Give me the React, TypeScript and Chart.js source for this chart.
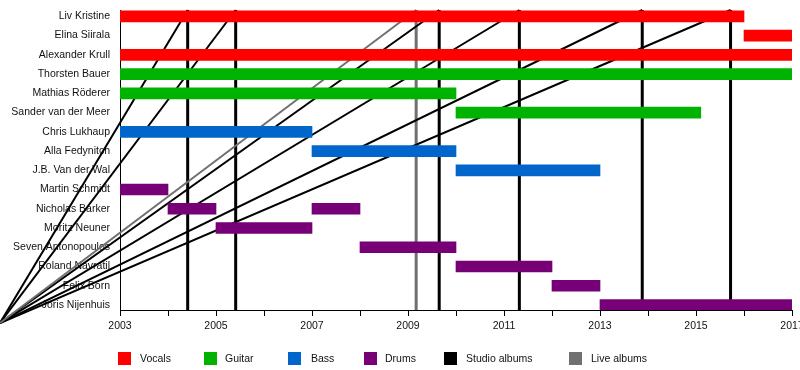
import React, { useEffect, useRef } from "react";
import { Chart, registerables } from "chart.js";

Chart.register(...registerables);

const members = [
  "Liv Kristine",
  "Elina Siirala",
  "Alexander Krull",
  "Thorsten Bauer",
  "Mathias Röderer",
  "Sander van der Meer",
  "Chris Lukhaup",
  "Alla Fedynitch",
  "J.B. Van der Wal",
  "Martin Schmidt",
  "Nicholas Barker",
  "Moritz Neuner",
  "Seven Antonopoulos",
  "Roland Navratil",
  "Felix Born",
  "Joris Nijenhuis",
];

type Span = [string, number, number];

const vocals: Span[] = [
  ["Liv Kristine", 2003, 2016],
  ["Elina Siirala", 2016, 2017],
  ["Alexander Krull", 2003, 2017],
];
const guitar: Span[] = [
  ["Thorsten Bauer", 2003, 2017],
  ["Mathias Röderer", 2003, 2010],
  ["Sander van der Meer", 2010, 2015.1],
];
const bass: Span[] = [
  ["Chris Lukhaup", 2003, 2007],
  ["Alla Fedynitch", 2007, 2010],
  ["J.B. Van der Wal", 2010, 2013],
];
const drums: Span[] = [
  ["Martin Schmidt", 2003, 2004],
  ["Nicholas Barker", 2004, 2005],
  ["Nicholas Barker", 2007, 2008],
  ["Moritz Neuner", 2005, 2007],
  ["Seven Antonopoulos", 2008, 2010],
  ["Roland Navratil", 2010, 2012],
  ["Felix Born", 2012, 2013],
  ["Joris Nijenhuis", 2013, 2017],
];

const studioAlbums = [2004.41, 2005.41, 2009.65, 2011.32, 2013.88, 2015.72];
const liveAlbums = [2009.17];

const yearMin = 2003;
const yearMax = 2017;
const yearLabels = [2003, 2005, 2007, 2009, 2011, 2013, 2015, 2017];

const legendLabels = ["Vocals", "Guitar", "Bass", "Drums", "Studio albums", "Live albums"];

const COLORS = {
  vocals: "#ff0000",
  guitar: "#00b300",
  bass: "#0066cc",
  drums: "#770077",
  studio: "#000000",
  live: "#707070",
};
const legendColors = [COLORS.vocals, COLORS.guitar, COLORS.bass, COLORS.drums, COLORS.studio, COLORS.live];
const legendSquareLeft = [118, 204, 288, 364, 444, 569];
const legendTextLeft = [140, 225, 311, 385, 466, 591];

const FONT = "'Liberation Sans', Arial, Helvetica, sans-serif";

// diagonal artefact origin (left edge of picture, below axis)
const DIAG_X = 2000.5;
const DIAG_Y = -0.0433;

function spansToData(spans: Span[]) {
  return spans.map(([name, s, e]) => ({ x: [s, e], y: members.indexOf(name) }));
}

export default function App() {
  const canvasRef = useRef<HTMLCanvasElement | null>(null);

  useEffect(() => {
    const canvas = canvasRef.current;
    if (!canvas) return;

    const barDs = (label: string, spans: Span[], color: string) => ({
      type: "bar" as const,
      label,
      data: spansToData(spans) as any,
      backgroundColor: color,
      borderWidth: 0,
      barThickness: 11,
      grouped: false,
      xAxisID: "x",
      yAxisID: "y",
      order: 0,
    });

    const lineDs = (pts: { x: number; y: number }[], color: string, width: number) => ({
      type: "line" as const,
      data: pts as any,
      borderColor: color,
      borderWidth: width,
      pointRadius: 0,
      fill: false,
      tension: 0,
      clip: false as any,
      indexAxis: "x" as const,
      xAxisID: "x",
      yAxisID: "yLine",
      order: 1,
    });

    const lineDatasets: any[] = [];
    liveAlbums.forEach((yr) => {
      lineDatasets.push(lineDs([{ x: DIAG_X, y: DIAG_Y }, { x: yr, y: 1 }], COLORS.live, 2));
    });
    studioAlbums.forEach((yr) => {
      lineDatasets.push(lineDs([{ x: DIAG_X, y: DIAG_Y }, { x: yr, y: 1 }], COLORS.studio, 2));
    });
    liveAlbums.forEach((yr) => {
      lineDatasets.push(lineDs([{ x: yr, y: 0 }, { x: yr, y: 1 }], COLORS.live, 3));
    });
    studioAlbums.forEach((yr) => {
      lineDatasets.push(lineDs([{ x: yr, y: 0 }, { x: yr, y: 1 }], COLORS.studio, 3));
    });

    const chart = new Chart(canvas, {
      type: "bar",
      data: {
        datasets: [
          barDs("Vocals", vocals, COLORS.vocals),
          barDs("Guitar", guitar, COLORS.guitar),
          barDs("Bass", bass, COLORS.bass),
          barDs("Drums", drums, COLORS.drums),
          ...lineDatasets,
        ] as any,
      },
      options: {
        indexAxis: "y",
        responsive: false,
        animation: false,
        layout: { padding: { top: 10, right: 8, bottom: 0, left: 0 } },
        plugins: {
          legend: { display: false },
          tooltip: { enabled: false },
        },
        scales: {
          x: {
            type: "linear",
            position: "bottom",
            offset: false,
            min: yearMin,
            max: yearMax,
            afterBuildTicks: (scale: any) => {
              const t: any[] = [];
              for (let v = yearMin; v <= yearMax; v++) t.push({ value: v });
              scale.ticks = t;
            },
            afterFit: (scale: any) => {
              scale.height = 60;
              scale.paddingLeft = 0;
              scale.paddingRight = 0;
            },
            ticks: {
              autoSkip: false,
              maxRotation: 0,
              padding: 4,
              color: "#111",
              font: { family: FONT, size: 10.5 },
              callback: (v: any) => (yearLabels.includes(Number(v)) ? String(v) : ""),
            },
            grid: {
              offset: false,
              drawOnChartArea: false,
              drawTicks: true,
              tickLength: 6,
              tickWidth: 1,
              color: "#000",
            },
            border: { display: true, color: "#000", width: 1 },
          },
          y: {
            type: "linear",
            position: "left",
            offset: false,
            reverse: true,
            min: -0.33,
            max: 15.26,
            afterBuildTicks: (scale: any) => {
              scale.ticks = members.map((_, i) => ({ value: i }));
            },
            afterFit: (scale: any) => {
              scale.width = 120;
              scale.paddingTop = 0;
              scale.paddingBottom = 0;
            },
            ticks: {
              autoSkip: false,
              padding: 10,
              color: "#111",
              font: { family: FONT, size: 10.5 },
              callback: (v: any) => members[Number(v)] ?? "",
            },
            grid: { offset: false, drawOnChartArea: false, drawTicks: false },
            border: { display: true, color: "#000", width: 1 },
          },
          yLine: {
            type: "linear",
            axis: "y",
            offset: false,
            display: false,
            min: 0,
            max: 1,
            grid: { offset: false },
          },
        } as any,
      },
    });

    return () => chart.destroy();
  }, []);

  return (
    <div
      style={{
        position: "fixed",
        left: 0,
        top: 0,
        width: 800,
        height: 370,
        background: "#fff",
        fontFamily: FONT,
      }}
    >
      <canvas ref={canvasRef} width={800} height={370} style={{ display: "block" }} />
      {legendLabels.map((label, i) => (
        <React.Fragment key={label}>
          <div
            style={{
              position: "absolute",
              left: legendSquareLeft[i],
              top: 352,
              width: 13,
              height: 13,
              background: legendColors[i],
            }}
          />
          <div
            style={{
              position: "absolute",
              left: legendTextLeft[i],
              top: 352,
              height: 13,
              lineHeight: "13px",
              fontSize: 10.5,
              color: "#111",
              whiteSpace: "nowrap",
            }}
          >
            {label}
          </div>
        </React.Fragment>
      ))}
    </div>
  );
}
